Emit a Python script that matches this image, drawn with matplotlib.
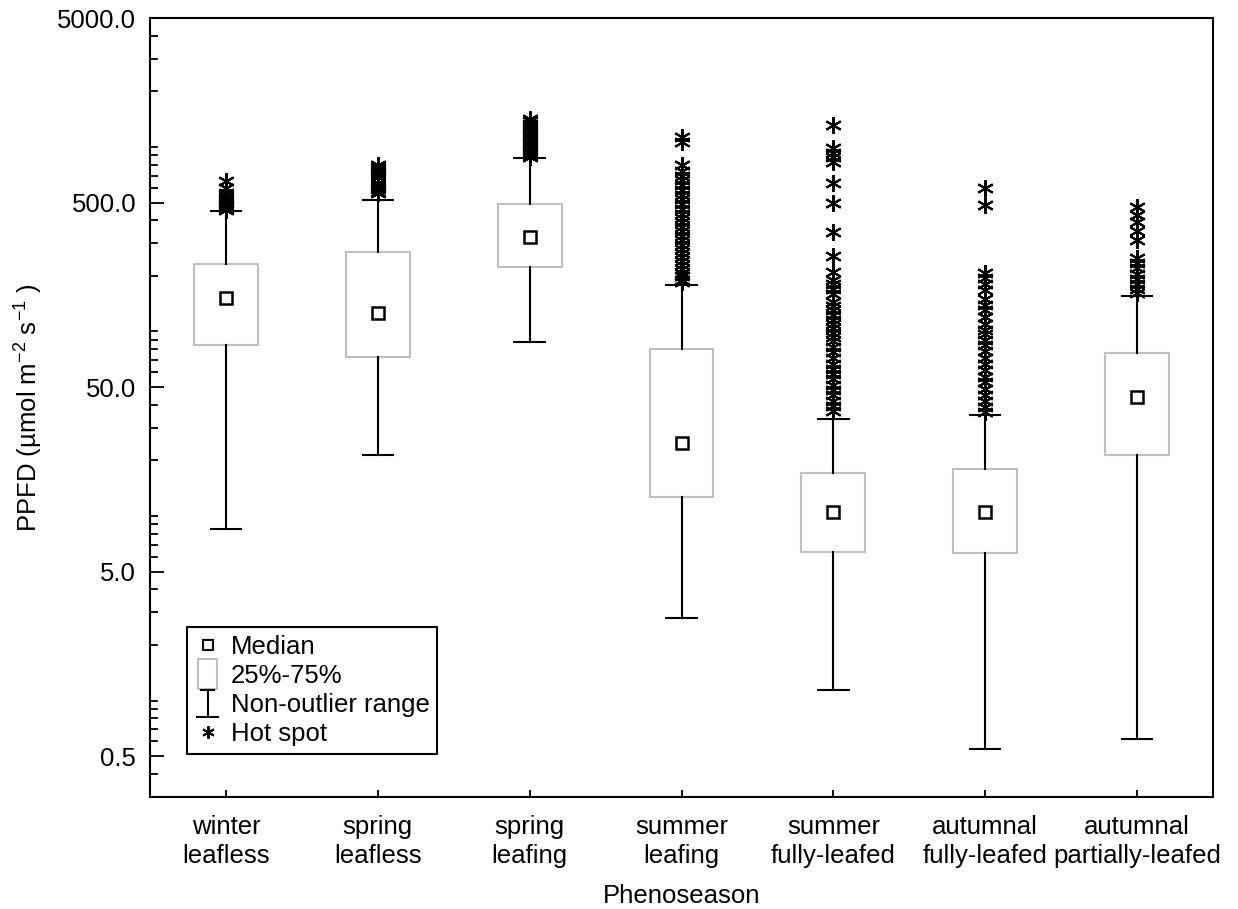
import numpy as np
import matplotlib
matplotlib.use('Agg')
import matplotlib.pyplot as plt
from matplotlib.lines import Line2D
from matplotlib.patches import Rectangle, Patch
from matplotlib.legend_handler import HandlerBase
from matplotlib.ticker import FixedLocator, FormatStrFormatter, LogLocator, NullFormatter

plt.rcParams['font.family'] = ['Liberation Sans', 'DejaVu Sans']
plt.rcParams['mathtext.default'] = 'regular'

# ── data ───────────────────────────────────────────────────────────
seasons = ['winter\nleafless', 'spring\nleafless', 'spring\nleafing',
           'summer\nleafing', 'summer\nfully-leafed',
           'autumnal\nfully-leafed', 'autumnal\npartially-leafed']
q1     = [84.9, 73.1, 224.5, 12.6, 6.36, 6.28, 21.3]
median = [152.5, 126.6, 326.0, 25.0, 10.46, 10.46, 43.9]
q3     = [233.0, 270.6, 492.0, 80.8, 17.2, 17.9, 76.8]
wlo    = [8.46, 21.3, 88.2, 2.79, 1.14, 0.546, 0.618]
whi    = [451.0, 517.5, 874.0, 179.0, 33.4, 35.1, 156.4]

hot_winter_leafless = [455, 462, 470, 478, 485, 492, 500, 508, 515, 522, 530,
                       540, 565, 601, 650]
hot_spring_leafless = [560, 572, 590, 606, 625, 641, 690, 710, 730, 750, 765,
                       780, 800]
hot_spring_leafing = [880, 900, 920, 940, 960, 985, 1010, 1035, 1060, 1090,
                      1120, 1150, 1180, 1210, 1240, 1270, 1300, 1340, 1380, 1420]
hot_summer_leafing = [1130, 1060, 800, 740, 700, 660, 620, 585, 550, 520, 490,
                      460, 435, 410, 390, 370, 350, 330, 312, 295, 280, 265,
                      252, 240, 228, 218, 208, 200, 190, 185]
hot_summer_full = [1316, 990, 930, 880, 830, 639, 497, 347, 255, 211,
                   190, 180, 170, 160, 145, 138, 130, 123, 116, 110, 104, 98,
                   93, 89, 82, 77, 72, 67, 63, 59, 55, 51.5, 48, 45, 42, 39.5, 37]
hot_autumn_full = [601, 486, 208, 195, 180, 168, 150, 140, 130, 120, 110, 102,
                   97, 90, 84, 78, 72, 67, 62, 57, 53, 49, 45.5, 42, 39, 36.5]
hot_autumn_partial = [470, 430, 390, 350, 315, 250, 235, 220, 205, 192, 180,
                      170, 162]
hot_spots = [hot_winter_leafless, hot_spring_leafless, hot_spring_leafing,
             hot_summer_leafing, hot_summer_full, hot_autumn_full,
             hot_autumn_partial]

BOX_EDGE = '#c0c0c0'
STAR = (6, 2, 0)
FS = 18.5

stats = [dict(med=m, q1=a, q3=b, whislo=lo, whishi=hi, fliers=f, label=s)
         for s, a, m, b, lo, hi, f in zip(seasons, q1, median, q3, wlo, whi, hot_spots)]

fig = plt.figure(figsize=(12.38, 9.09), dpi=100)
ax = fig.add_axes([150/1238, 1 - 797/909, 1063/1238, 779/909])

pos = np.arange(len(seasons))
ax.bxp(stats, positions=pos, widths=0.42, capwidths=0.2, patch_artist=True,
       boxprops=dict(facecolor='white', edgecolor=BOX_EDGE, linewidth=1.5),
       whiskerprops=dict(color='black', linewidth=1.5),
       capprops=dict(color='black', linewidth=1.5),
       medianprops=dict(linewidth=0),
       flierprops=dict(marker=STAR, markersize=12, markeredgecolor='black',
                       markeredgewidth=1.5, linestyle='none'))
ax.plot(pos, median, ls='none', marker='s', ms=8.5, mfc='white',
        mec='black', mew=1.8, zorder=5)

# ── axes ───────────────────────────────────────────────────────────
ax.set_yscale('log')
ax.set_ylim(0.3, 5000)
ax.set_xlim(-0.5, 6.5)
ax.yaxis.set_major_locator(FixedLocator([0.5, 5, 50, 500, 5000]))
ax.yaxis.set_major_formatter(FormatStrFormatter('%.1f'))
ax.yaxis.set_minor_locator(LogLocator(base=10, subs=np.arange(1, 10)))
ax.yaxis.set_minor_formatter(NullFormatter())
ax.set_xticks(pos)
ax.set_xticklabels(seasons, fontsize=FS, linespacing=1.25)
ax.tick_params(axis='y', which='major', direction='in', length=10, width=1.3,
               labelsize=FS, pad=10, right=False)
ax.tick_params(axis='y', which='minor', direction='in', length=6, width=1.3,
               right=False)
ax.tick_params(axis='x', which='major', direction='in', length=5, width=1.3,
               pad=13, top=False)
for s in ax.spines.values():
    s.set_linewidth(1.5)

ax.set_ylabel('PPFD (µmol m$^{-2}$ s$^{-1}$ )', fontsize=FS, labelpad=9)
ax.set_xlabel('Phenoseason', fontsize=FS, labelpad=12)


# ── legend with custom symbols ─────────────────────────────────────
class BoxHandler(HandlerBase):
    def create_artists(self, legend, orig, xd, yd, width, height, fontsize, trans):
        cx, cy = -xd + width / 2, -yd + height / 2
        w, h = 0.75 * fontsize, 1.2 * fontsize
        return [Rectangle((cx - w / 2, cy - h / 2), w, h, facecolor='white',
                          edgecolor=BOX_EDGE, lw=1.5, transform=trans)]


class RangeHandler(HandlerBase):
    def create_artists(self, legend, orig, xd, yd, width, height, fontsize, trans):
        cx, cy = -xd + width / 2, -yd + height / 2
        h = 1.05 * fontsize
        kw = dict(color='black', lw=1.5, transform=trans)
        return [Line2D([cx, cx], [cy - h / 2, cy + h / 2], **kw),
                Line2D([cx - 0.25 * fontsize, cx + 0.25 * fontsize], [cy + h / 2] * 2, **kw),
                Line2D([cx - 0.42 * fontsize, cx + 0.42 * fontsize], [cy - h / 2] * 2, **kw)]


h_med = Line2D([], [], ls='none', marker='s', ms=7, mfc='white', mec='black', mew=1.5)
h_box = Patch()
h_rng = Line2D([], [])
h_hot = Line2D([], [], ls='none', marker=STAR, ms=9, mec='black', mew=1.4)
leg = ax.legend([h_med, h_box, h_rng, h_hot],
                ['Median', '25%-75%', 'Non-outlier range', 'Hot spot'],
                handler_map={h_box: BoxHandler(), h_rng: RangeHandler()},
                loc='lower left', bbox_to_anchor=(37/1063, 43/779),
                borderaxespad=0, fontsize=FS, fancybox=False, framealpha=1,
                edgecolor='black', handlelength=1.0, handletextpad=0.4,
                borderpad=0.3, labelspacing=0.2)
leg.get_frame().set_linewidth(1.5)

fig.savefig('out.png', dpi=100)
